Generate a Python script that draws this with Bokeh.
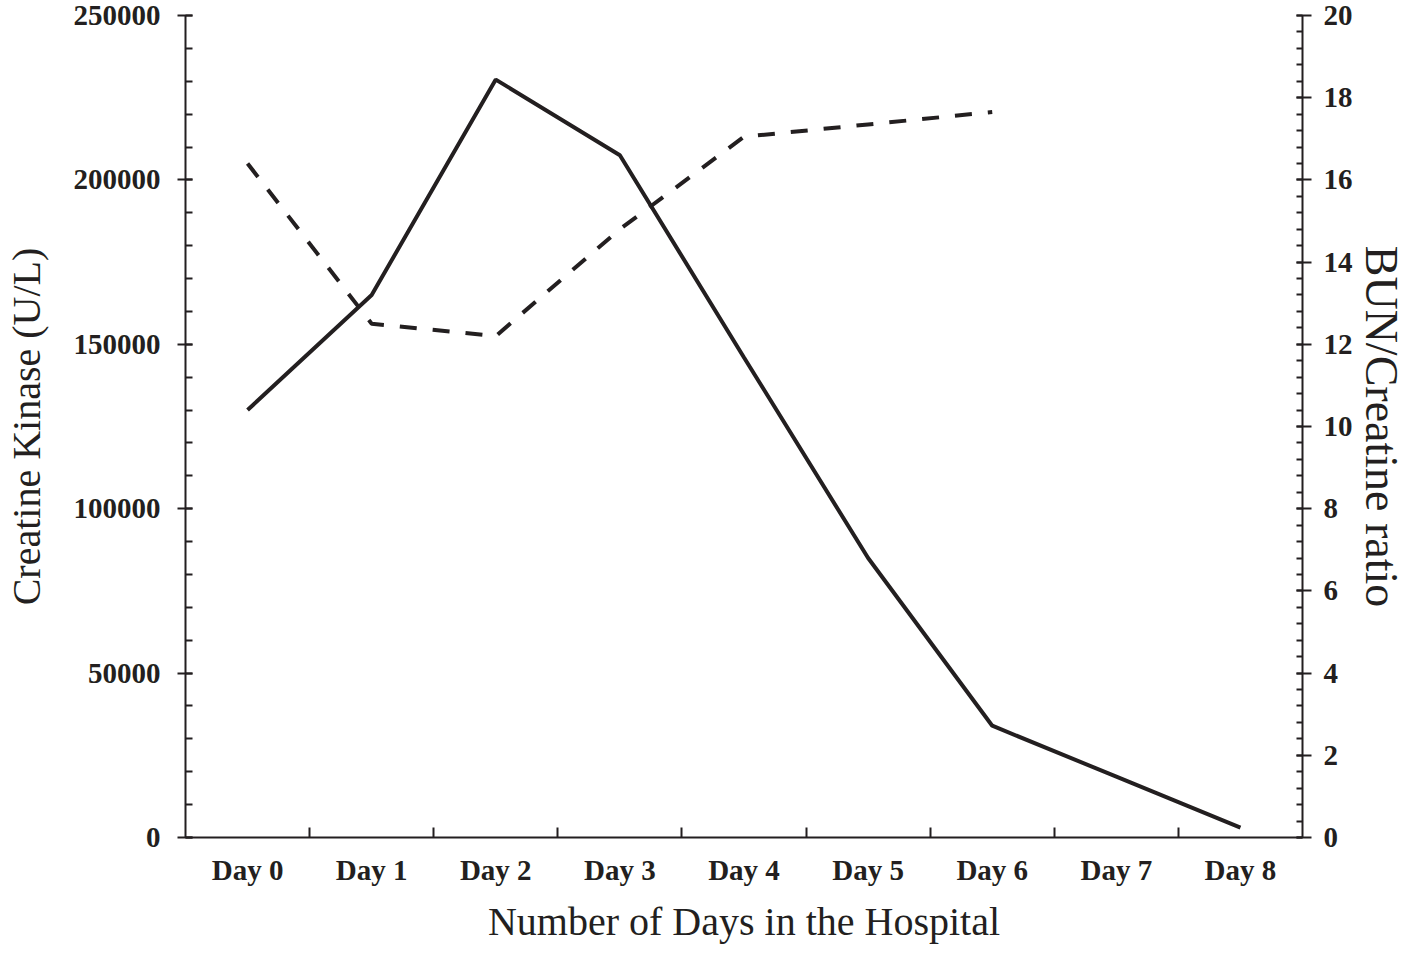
from bokeh.plotting import figure
from bokeh.models import Range1d, LinearAxis, FixedTicker
from bokeh.embed import file_html
from bokeh.resources import INLINE

# ---- data ----
days = ["Day 0", "Day 1", "Day 2", "Day 3", "Day 4", "Day 5", "Day 6", "Day 7", "Day 8"]
day_index = [0, 1, 2, 3, 4, 5, 6, 7, 8]
day_bounds = [0.5, 1.5, 2.5, 3.5, 4.5, 5.5, 6.5, 7.5]
creatine_kinase = [130000, 165000, 230500, 207500, 146000, 85000, 34000, 18500, 3000]
bun_days = [0, 1, 2, 3, 4, 5, 6]
bun_creatinine = [16.4, 12.5, 12.2, 14.8, 17.05, 17.35, 17.65]
ck_major = [0, 50000, 100000, 150000, 200000, 250000]
ck_major_labels = ["0", "50000", "100000", "150000", "200000", "250000"]
ck_minor = [0, 10000, 20000, 30000, 40000, 50000, 60000, 70000, 80000, 90000, 100000,
            110000, 120000, 130000, 140000, 150000, 160000, 170000, 180000, 190000, 200000,
            210000, 220000, 230000, 240000, 250000]
ratio_major = [0, 2, 4, 6, 8, 10, 12, 14, 16, 18, 20]
ratio_minor = [0, 0.4, 0.8, 1.2, 1.6, 2, 2.4, 2.8, 3.2, 3.6, 4, 4.4, 4.8, 5.2, 5.6, 6, 6.4,
               6.8, 7.2, 7.6, 8, 8.4, 8.8, 9.2, 9.6, 10, 10.4, 10.8, 11.2, 11.6, 12, 12.4,
               12.8, 13.2, 13.6, 14, 14.4, 14.8, 15.2, 15.6, 16, 16.4, 16.8, 17.2, 17.6, 18,
               18.4, 18.8, 19.2, 19.6, 20]

INK = "#231f20"
FONT = "Liberation Serif"

p = figure(width=1409, height=946, output_backend="svg", toolbar_location=None,
           x_range=Range1d(-0.5, 8.5), y_range=Range1d(0, 250000),
           min_border_left=174, min_border_right=100, min_border_top=15,
           min_border_bottom=100)
p.extra_y_ranges = {"ratio": Range1d(0, 20)}
p.outline_line_color = None
p.xgrid.visible = False
p.ygrid.visible = False
p.background_fill_color = "white"
p.border_fill_color = "white"

right_axis = LinearAxis(y_range_name="ratio")
p.add_layout(right_axis, "right")

def style_axis(ax):
    ax.axis_line_color = INK
    ax.axis_line_width = 2
    ax.major_tick_line_color = INK
    ax.major_tick_line_width = 2
    ax.minor_tick_line_color = INK
    ax.minor_tick_line_width = 2
    ax.major_label_text_font = FONT
    ax.major_label_text_font_style = "bold"
    ax.major_label_text_font_size = "29px"
    ax.major_label_text_color = INK
    ax.axis_label_text_font = FONT
    ax.axis_label_text_font_style = "normal"
    ax.axis_label_text_font_size = "40px"
    ax.axis_label_text_color = INK

# x axis
xa = p.xaxis[0]
style_axis(xa)
xa.ticker = FixedTicker(ticks=day_index, minor_ticks=day_bounds)
xa.major_label_overrides = {i: d for i, d in zip(day_index, days)}
xa.major_tick_in = 0
xa.major_tick_out = 0
xa.minor_tick_in = 10
xa.minor_tick_out = 0
xa.major_label_standoff = 16
xa.axis_label = "Number of Days in the Hospital"
xa.axis_label_standoff = 10

# left axis
ya = p.yaxis[0]
style_axis(ya)
ya.ticker = FixedTicker(ticks=ck_major, minor_ticks=ck_minor)
ya.major_label_overrides = {v: s for v, s in zip(ck_major, ck_major_labels)}
ya.major_tick_in = 7
ya.major_tick_out = 8
ya.minor_tick_in = 7
ya.minor_tick_out = 0
ya.major_label_standoff = 17
ya.axis_label = "Creatine Kinase (U/L)"
ya.axis_label_standoff = 22

# right axis
style_axis(right_axis)
right_axis.ticker = FixedTicker(ticks=ratio_major, minor_ticks=ratio_minor)
right_axis.major_tick_in = 6
right_axis.major_tick_out = 9
right_axis.minor_tick_in = 6
right_axis.minor_tick_out = 0
right_axis.major_label_standoff = 12
right_axis.axis_label = "BUN/Creatine ratio"
right_axis.axis_label_text_font_size = "46px"
right_axis.axis_label_standoff = 0

p.line(bun_days, bun_creatinine, y_range_name="ratio", line_color=INK, line_width=4,
       line_dash="17 16")
p.line(day_index, creatine_kinase, line_color=INK, line_width=4)

open("out.html", "w").write(file_html(p, INLINE))
